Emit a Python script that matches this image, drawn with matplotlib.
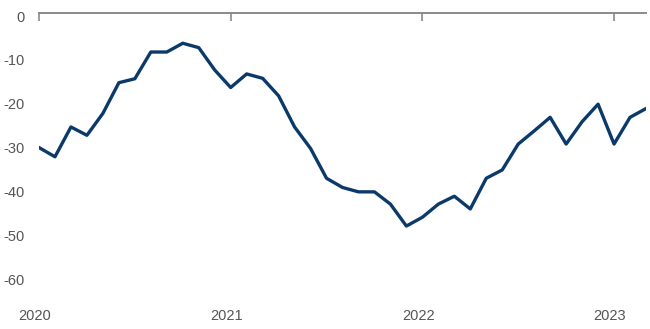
import matplotlib
matplotlib.use("Agg")
import matplotlib.pyplot as plt
import matplotlib.transforms as mtransforms
import numpy as np

# monthly values, Jan 2020 .. Mar 2023
months = np.arange(39)
values = [-30.0, -32.1, -25.3, -27.2, -22.2, -15.2, -14.3, -8.2, -8.2, -6.2,
          -7.2, -12.3, -16.3, -13.2, -14.2, -18.2, -25.3, -30.2, -37.0, -39.1,
          -40.1, -40.1, -42.9, -47.9, -45.9, -42.9, -41.1, -44.0, -37.0, -35.1,
          -29.2, -26.2, -23.1, -29.2, -24.1, -20.1, -29.2, -23.1, -21.1]
year_ticks = [0, 12, 24, 36]
year_labels = ["2020", "2021", "2022", "2023"]
y_ticks = [0, -10, -20, -30, -40, -50, -60]

plt.rcParams["font.family"] = ["Liberation Sans", "DejaVu Sans"]
plt.rcParams["axes.unicode_minus"] = False

fig = plt.figure(figsize=(6.5, 3.29), dpi=100)
ax = fig.add_axes([39 / 650, 28 / 329, 607 / 650, 288 / 329])

ax.plot(months, values, color="#0b3a6a", linewidth=2.4, solid_joinstyle="round")

ax.set_xlim(0, 38)
ax.set_ylim(-65, 0.7)

# axis line sits on top, labels stay at the bottom
for side in ["left", "right", "bottom"]:
    ax.spines[side].set_visible(False)
ax.spines["top"].set_color("#8a8a8a")
ax.spines["top"].set_linewidth(1.4)

ax.set_xticks(year_ticks)
ax.set_xticklabels(year_labels)
ax.tick_params(axis="x", top=True, bottom=False, labeltop=False, labelbottom=True,
               direction="in", length=6, width=1.2, color="#8a8a8a",
               labelsize=10.5, labelcolor="#555555", pad=6)
offset = mtransforms.ScaledTranslation(-4 / 100, 0, fig.dpi_scale_trans)
for lab in ax.get_xticklabels():
    lab.set_transform(lab.get_transform() + offset)

ax.set_yticks(y_ticks)
ax.tick_params(axis="y", left=False, length=0, labelsize=10.5,
               labelcolor="#555555", pad=10)

fig.savefig("out.png", dpi=100)
